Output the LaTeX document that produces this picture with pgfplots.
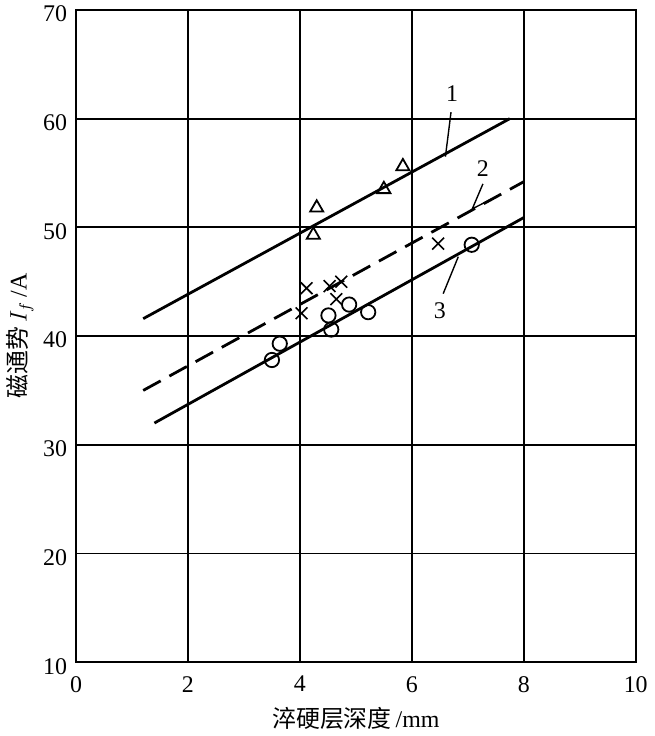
\documentclass[border=0pt]{standalone}
\usepackage{pgfplots}
\pgfplotsset{compat=1.18}
\usepackage{fontspec}
\setmainfont{Liberation Serif}
\newfontfamily\cjk{Noto Sans CJK SC}
\begin{document}
\begin{tikzpicture}
\begin{axis}[
  name=ax,
  scale only axis,
  width=281pt, height=327.5pt,
  xmin=0, xmax=10, ymin=10, ymax=70,
  xtick={0,2,...,10}, ytick={10,20,...,70},
  grid=major,
  major grid style={black, line width=1pt},
  axis line style={black, line width=1pt},
  major tick length=0pt,
  tick label style={font=\fontsize{12}{12}\selectfont},
  /pgf/number format/assume math mode=true,
  xticklabel style={yshift=-3.5pt},
  yticklabel style={xshift=-1pt, yshift=-2pt},
  xlabel={{\cjk 淬硬层深度}\,/mm},
  ylabel={{\cjk 磁通势}\,$I_{f}$\,/A},
  label style={font=\fontsize{12}{12}\selectfont},
  xlabel style={yshift=-0.5pt},
  ylabel style={yshift=-2pt},
  clip=false,
]
% fitted lines
\addplot[black, line width=1.4pt] coordinates {(1.2,41.6) (7.75,60.0)};
\addplot[black, line width=1.4pt, dash pattern=on 10pt off 5pt] coordinates {(1.2,35.0) (8.0,54.2)};
\addplot[black, line width=1.4pt] coordinates {(1.4,32.0) (8.0,50.9)};
% data: triangles
\addplot[only marks, mark=triangle, mark size=3.8pt, mark options={black, line width=0.9pt, fill=white}] coordinates {
(4.30,51.8) (4.24,49.3) (5.50,53.5) (5.84,55.6)};
% crosses
\addplot[only marks, mark=x, mark size=4.2pt, mark options={black, line width=0.8pt}] coordinates {
(4.12,44.4) (4.03,42.1) (4.53,44.6) (4.74,45.0) (4.65,43.4) (6.47,48.5)};
% circles
\addplot[only marks, mark=o, mark size=3.6pt, mark options={black, line width=0.9pt, fill=white}] coordinates {
(3.50,37.8) (3.64,39.3) (4.51,41.9) (4.56,40.6) (4.88,42.9) (5.22,42.2) (7.07,48.4)};
% leaders
\addplot[black, line width=0.7pt] coordinates {(6.60,56.5) (6.70,60.6)};
\addplot[black, line width=0.7pt] coordinates {(7.27,54.0) (7.08,51.7) (7.42,52.6)};
\addplot[black, line width=0.7pt] coordinates {(6.56,43.9) (6.83,47.3)};
\node[font=\fontsize{12}{12}\selectfont] at (axis cs:6.72,62.3) {1};
\node[font=\fontsize{12}{12}\selectfont] at (axis cs:7.27,55.4) {2};
\node[font=\fontsize{12}{12}\selectfont] at (axis cs:6.50,42.3) {3};
\end{axis}
\coordinate (tr) at ([yshift=5pt]ax.north east);
\pgfresetboundingbox
\path (ax.outer south west) rectangle (tr -| ax.outer east);
\end{tikzpicture}
\end{document}
